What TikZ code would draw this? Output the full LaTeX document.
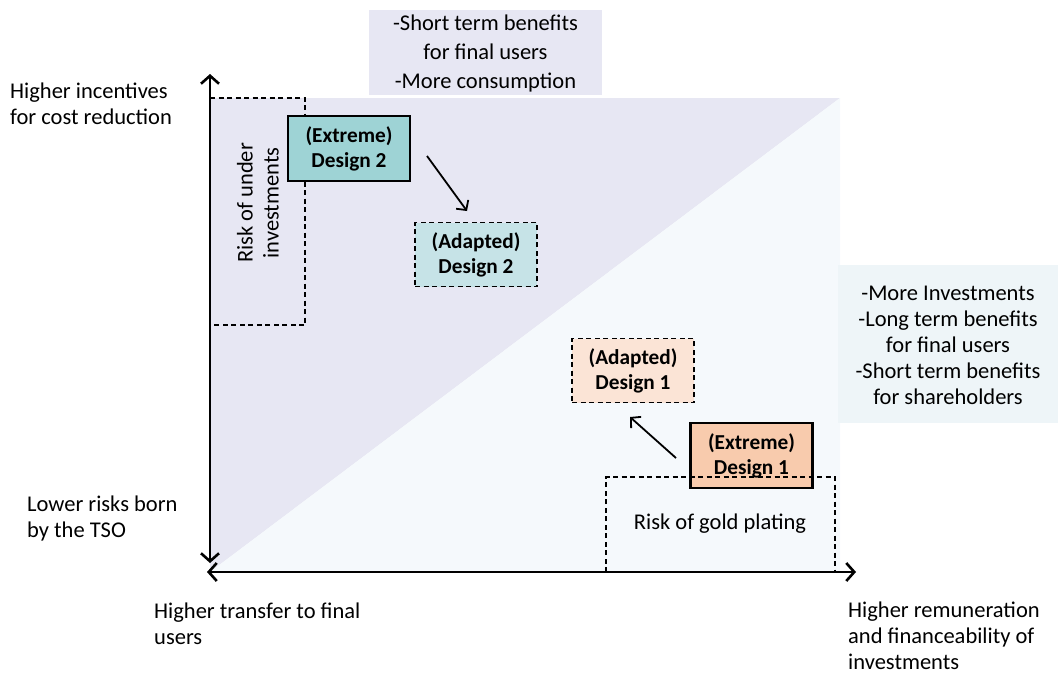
\documentclass[tikz,border=0pt]{standalone}
\usepackage{fontspec}
\setmainfont{Carlito}
\usetikzlibrary{arrows.meta}
\definecolor{lav}{HTML}{E7E7F3}
\definecolor{lightb}{HTML}{F5F9FC}
\definecolor{rbox}{HTML}{EEF5F8}
\definecolor{teal1}{HTML}{9ED3D5}
\definecolor{teal2}{HTML}{C6E3E7}
\definecolor{or1}{HTML}{F8CBAD}
\definecolor{or2}{HTML}{FBE4D6}
\tikzset{
  lbl/.style={font=\fontsize{22.5}{26}\selectfont, align=left, anchor=north west, inner sep=0pt},
  ctext/.style={font=\fontsize{22.5}{26}\selectfont, align=center, inner sep=0pt},
  extreme/.style={draw=black, line width=2.2pt, minimum width=122pt, minimum height=65pt, font=\bfseries\fontsize{21.3}{25}\selectfont, align=center, inner sep=0pt},
  adapted/.style={draw=black, dashed, dash pattern=on 5pt off 3.5pt, line width=1.1pt, minimum width=122pt, minimum height=64pt, font=\bfseries\fontsize{21.3}{25}\selectfont, align=center, inner sep=0pt},
  riskbox/.style={draw=black, dash pattern=on 5pt off 3.5pt, line width=1.1pt},
  axis/.style={line width=2.6pt, {Straight Barb[length=8pt,width=18pt]}-{Straight Barb[length=8pt,width=18pt]}},
  move/.style={line width=1.8pt, -{Straight Barb[length=7pt,width=15pt]}}
}
\begin{document}
\begin{tikzpicture}[x=1pt,y=-1pt]
\useasboundingbox (0,0) rectangle (1058,675);
% background regions
\fill[lav] (210,98) -- (840,98) -- (210,572) -- cycle;
\fill[lightb] (840,98) -- (840,572) -- (210,572) -- cycle;
% text boxes
\fill[lav] (369,10) rectangle (602,95);
\node[ctext, font=\fontsize{22.5}{29}\selectfont] (topt) at (485.5,53) {-Short term benefits\\for final users\\-More consumption};
\fill[rbox] (838,265) rectangle (1058,423);
\node[ctext] (rightt) at (948,345) {-More Investments\\-Long term benefits\\for final users\\-Short term benefits\\for shareholders};
% risk of under investments
\draw[riskbox] (210,98) -- (305,98) -- (305,325) -- (210,325);
\node[ctext, rotate=90] (under) at (258,203) {Risk of under\\investments};
% design boxes
\node[extreme, fill=teal1] (ed2) at (349,148.5) {(Extreme)\\Design 2};
\node[adapted, fill=teal2] (ad2) at (476,254.5) {(Adapted)\\Design 2};
\node[adapted, fill=or2] (ad1) at (633,370.5) {(Adapted)\\Design 1};
\node[extreme, fill=or1] (ed1) at (751.5,455.5) {(Extreme)\\Design 1};
% risk of gold plating
\draw[riskbox] (606,572) -- (606,477) -- (835,477) -- (835,572);
\node[ctext] (gold) at (720,524) {Risk of gold plating};
% move arrows
\coordinate (m2s) at (427,156);
\coordinate (m2e) at (467,211);
\coordinate (m1s) at (676,458);
\coordinate (m1e) at (630,417);
\draw[move] (m2s) -- (m2e);
\draw[move] (m1s) -- (m1e);
% axes
\coordinate (yt) at (210,74);
\coordinate (yb) at (210,563);
\coordinate (xl) at (207,572);
\coordinate (xr) at (856,572);
\draw[axis] (yb) -- (yt);
\draw[axis] (xl) -- (xr);
% axis labels
\node[lbl] (l1) at (10,83) {Higher incentives\\for cost reduction};
\node[lbl] (l2) at (27,496) {Lower risks born\\by the TSO};
\node[lbl] (l3) at (154,603) {Higher transfer to final\\users};
\node[lbl] (l4) at (848,602) {Higher remuneration\\and financeability of\\investments};
\end{tikzpicture}
\end{document}
